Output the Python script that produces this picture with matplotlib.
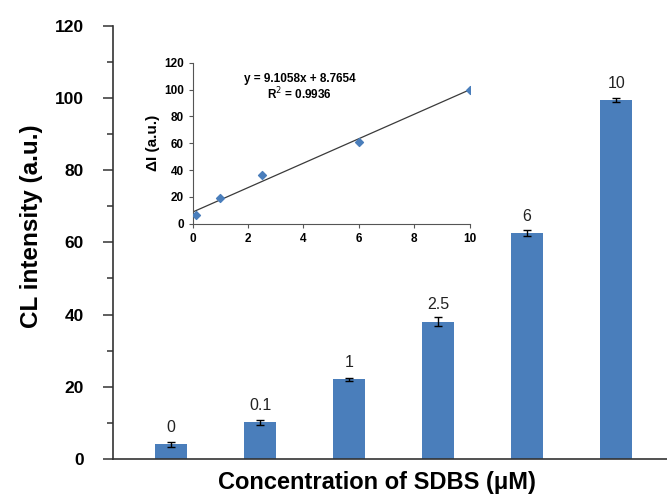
import matplotlib.pyplot as plt
from matplotlib.ticker import MultipleLocator

plt.rcParams['font.family'] = ['Liberation Sans', 'DejaVu Sans']

conc_labels = ["0", "0.1", "1", "2.5", "6", "10"]
cl_intensity = [4.0, 10.1, 22.0, 38.0, 62.5, 99.4]
cl_err = [0.6, 0.8, 0.5, 1.3, 0.8, 0.5]

inset_x = [0.1, 1, 2.5, 6, 10]
inset_y = [6.5, 19, 36, 61, 100]
slope, intercept = 9.1058, 8.7654

bar_color = "#4a7ebb"
axis_color = "#333333"

fig = plt.figure(figsize=(6.67, 4.94), dpi=100)
ax = fig.add_axes([0.1695, 0.071, 0.8305, 0.877])
pos = range(len(conc_labels))
ax.bar(pos, cl_intensity, width=0.355, color=bar_color, yerr=cl_err,
       error_kw=dict(ecolor="black", elinewidth=1, capsize=3, capthick=1))
for i, (v, lab) in enumerate(zip(cl_intensity, conc_labels)):
    ax.text(i, v + 2.6, lab, ha="center", va="bottom", fontsize=11.5, color="#222222")

ax.set_xlim(-0.65, 5.57)
ax.set_ylim(0, 120)
ax.yaxis.set_major_locator(MultipleLocator(20))
ax.yaxis.set_minor_locator(MultipleLocator(10))
ax.set_xticks([])
ax.spines['top'].set_visible(False)
ax.spines['right'].set_visible(False)
for s in ['left', 'bottom']:
    ax.spines[s].set_color(axis_color)
    ax.spines[s].set_linewidth(1.2)
ax.tick_params(axis='y', which='major', length=7, width=1.1, labelsize=12.5,
               pad=14, direction='out', color=axis_color)
ax.tick_params(axis='y', which='minor', length=4, width=1.1, direction='out', color=axis_color)
for t in ax.get_yticklabels():
    t.set_fontweight('bold')
ax.set_ylabel("CL intensity (a.u.)", fontsize=17.5, fontweight='bold')
ax.yaxis.set_label_coords(-0.127, 0.538)
ax.set_xlabel("Concentration of SDBS (\u03bcM)", fontsize=17, fontweight='bold')
ax.xaxis.set_label_coords(0.477, -0.028)

# inset calibration plot
ins = fig.add_axes([0.289, 0.547, 0.415, 0.326])
fit_x = [0, 10]
fit_y = [intercept + slope * x for x in fit_x]
ins.plot(fit_x, fit_y, color="#3a3a3a", linewidth=0.9)
ins.scatter(inset_x, inset_y, marker="D", s=16, color=bar_color, zorder=3)
ins.set_xlim(0, 10)
ins.set_ylim(0, 120)
ins.xaxis.set_major_locator(MultipleLocator(2))
ins.yaxis.set_major_locator(MultipleLocator(20))
ins.spines['top'].set_visible(False)
ins.spines['right'].set_visible(False)
for s in ['left', 'bottom']:
    ins.spines[s].set_color("#555555")
ins.tick_params(axis='both', labelsize=8.5, length=3, direction='out', color="#555555")
for t in ins.get_xticklabels() + ins.get_yticklabels():
    t.set_fontweight('bold')
ins.set_ylabel("\u0394I (a.u.)", fontsize=11, fontweight='bold', labelpad=3)
ins.text(3.86, 101.5, "y = 9.1058x + 8.7654\nR$^2$ = 0.9936", ha="center", va="center",
         fontsize=8.5, fontweight='bold', linespacing=1.0)

plt.savefig("out.png", dpi=100)
